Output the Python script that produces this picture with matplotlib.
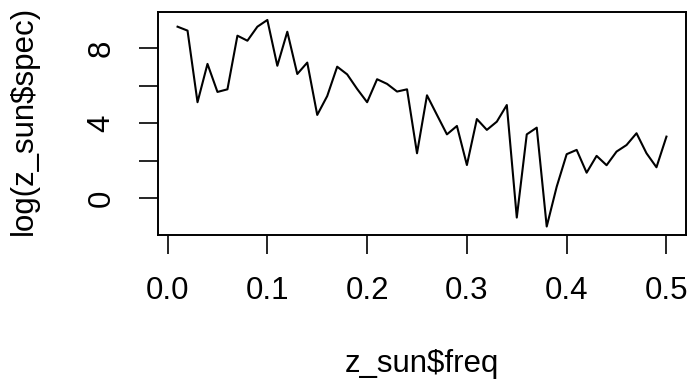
import numpy as np
import matplotlib
matplotlib.use("Agg")
import matplotlib.pyplot as plt

freq = [round(0.01 * i, 2) for i in range(1, 51)]
log_spec = [9.16, 8.95, 5.12, 7.17, 5.67, 5.81, 8.68, 8.41, 9.16, 9.52,
            7.07, 8.89, 6.63, 7.24, 4.44, 5.45, 7.02, 6.61, 5.83, 5.12,
            6.35, 6.10, 5.69, 5.81, 2.39, 5.49, 4.44, 3.40, 3.85, 1.76,
            4.22, 3.64, 4.08, 4.97, -1.05, 3.40, 3.76, -1.53, 0.60, 2.34,
            2.57, 1.35, 2.25, 1.75, 2.48, 2.83, 3.46, 2.39, 1.64, 3.28]
xticks = [0.0, 0.1, 0.2, 0.3, 0.4, 0.5]
xticklabels = ["0.0", "0.1", "0.2", "0.3", "0.4", "0.5"]
yticks = [0, 2, 4, 6, 8]
yticklabels = ["0", "", "4", "", "8"]

plt.rcParams['font.family'] = ['Liberation Sans', 'DejaVu Sans']

fig = plt.figure(figsize=(6.93, 3.86), dpi=100)
ax = fig.add_axes([158/693, 1 - 234.8/386, (686 - 158)/693, (234.8 - 11.7)/386])

ax.plot(freq, log_spec, color='black', lw=1.5)

xmin, xmax = min(freq), max(freq)
ymin, ymax = min(log_spec), max(log_spec)
px = 0.04 * (xmax - xmin)
py = 0.04 * (ymax - ymin)
ax.set_xlim(xmin - px, xmax + px)
ax.set_ylim(ymin - py, ymax + py)

ax.set_xticks(xticks)
ax.set_xticklabels(xticklabels)
ax.set_yticks(yticks)
ax.set_yticklabels(yticklabels, rotation=90, va='center')

for s in ax.spines.values():
    s.set_linewidth(1.4)
    s.set_color('black')

fs = 22.5
ax.tick_params(axis='both', direction='out', length=14, width=1.2, labelsize=fs, colors='black')
ax.tick_params(axis='x', pad=16)
ax.tick_params(axis='y', pad=16)

fig.text(422/693, 1 - 364/386, "z_sun$freq", ha='center', va='center', fontsize=fs)
fig.text(24/693, 1 - 120/386, "log(z_sun$spec)", ha='center', va='center', rotation=90, fontsize=fs)

fig.savefig("out.png", dpi=100)
